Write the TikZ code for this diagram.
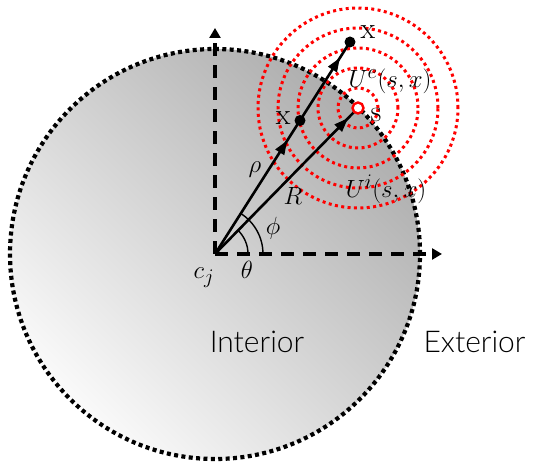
\documentclass[tikz,border=0pt]{standalone}
\usepackage{fontspec}
\newfontfamily\labelfont{Lato}[UprightFont=* Light]
\usetikzlibrary{arrows.meta,decorations.markings,shadings}
\tikzset{
  bdot/.style={draw=black,line width=4.2pt,dash pattern=on 4pt off 3.4pt},
  rdot/.style={draw=red,line width=3pt,dash pattern=on 3pt off 3.4pt},
  axis/.style={line width=3.6pt,dash pattern=on 13pt off 9pt,-{Triangle[length=10pt,width=11pt]}},
  vec/.style={line width=2.6pt},
  ptdot/.style={circle,fill=black,inner sep=0pt,minimum size=11pt},
  lbl/.style={font=\fontsize{30}{34}\selectfont},
  region/.style={font=\labelfont\fontsize{30}{34}\selectfont},
  midarrow/.style={postaction={decorate},decoration={markings,mark=at position #1 with {\arrow{Triangle[length=14pt,width=10pt]}}}}
}
\begin{document}
\begin{tikzpicture}[x=1pt,y=1pt]
\useasboundingbox (0,0) rectangle (533,462);
% circle region
\coordinate (c) at (215,208);
\shade[left color=black!32,right color=black!2,shading angle=-45] (c) circle (205);
\draw[bdot] (c) circle (205);
% axes
\coordinate (ytop) at (215,434);
\coordinate (xend) at (442,208);
\draw[axis] (c) -- (ytop);
\draw[axis] (c) -- (xend);
% points
\coordinate (s) at (358,354);
\coordinate (xin) at (300,341.5);
\coordinate (xout) at (350,420);
% red rings
\foreach \r in {20,40,60,80,100} \draw[rdot] (s) circle (\r);
% vectors
\draw[vec,midarrow=0.85] (c) -- (xin);
\draw[vec,midarrow=0.8] (xin) -- (xout);
\draw[vec,midarrow=0.93] (c) -- (s);
\node[ptdot] (pin) at (xin) {};
\node[ptdot] (pout) at (xout) {};
\node[circle,draw=red,line width=2.4pt,fill=white,inner sep=0pt,minimum size=11pt] (ps) at (s) {};
% angle arcs
\draw[line width=1.4pt] ([shift={(33,0)}]c) arc (0:45.6:33);
\draw[line width=1.4pt] ([shift={(48,0)}]c) arc (0:57.5:48);
% labels
\node[lbl,left] (lxin) at (294,344) {x};
\node[lbl] (lxout) at (368,430) {x};
\node[lbl] (ls) at (376,347) {s};
\node[lbl] (lue) at (390,381) {$U^e(s,x)$};
\node[lbl] (lui) at (386,273) {$U^i(s,x)$};
\node[lbl] (lrho) at (255,292) {$\rho$};
\node[lbl] (lR) at (293,266) {$R$};
\node[lbl] (lphi) at (273,234) {$\phi$};
\node[lbl] (ltheta) at (247,192) {$\theta$};
\node[lbl] (lcj) at (204,184) {$c_j$};
\node[region] (lint) at (257,120) {Interior};
\node[region,anchor=west] (lext) at (420,120) {Exterior};
\end{tikzpicture}
\end{document}
